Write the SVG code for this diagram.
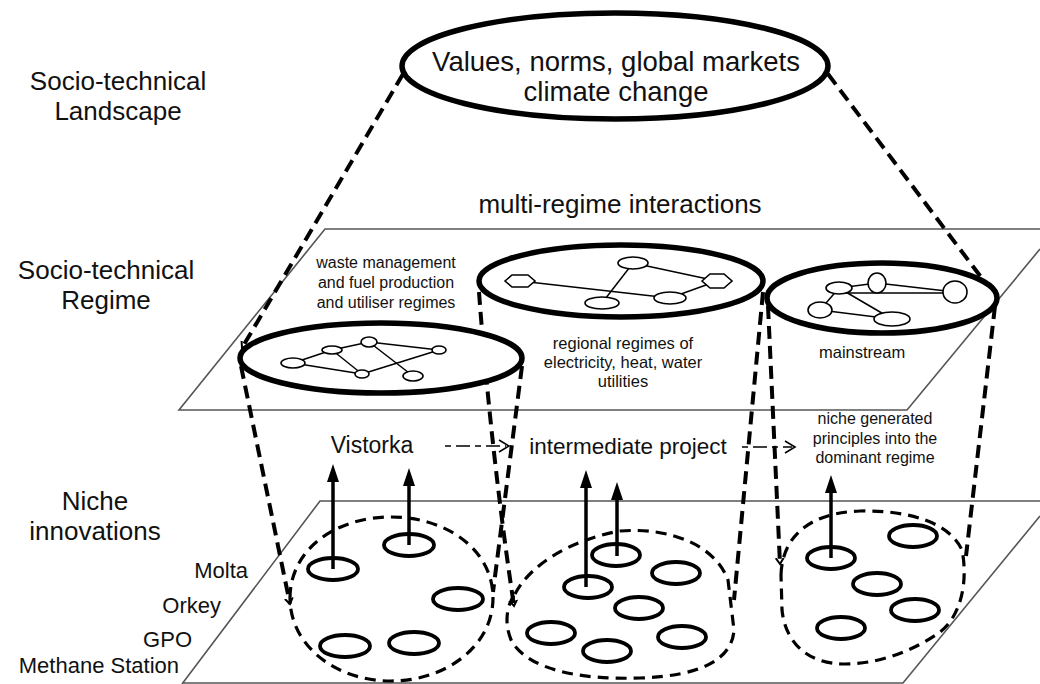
<svg xmlns="http://www.w3.org/2000/svg" width="1040" height="684" viewBox="0 0 1040 684">
  <style>
    .lbl { font-family: "Liberation Sans", Arial, Helvetica, sans-serif; fill: #111; }
    .plane { fill: none; stroke: #555; stroke-width: 1.6; }
    .regime { fill: #fff; stroke: #000; stroke-width: 5.5; }
    .funnel { fill: none; stroke: #000; stroke-width: 4; stroke-dasharray: 13 7; }
    .blob { fill: none; stroke: #000; stroke-width: 3.2; stroke-dasharray: 11 7; }
    .niche { fill: none; stroke: #000; stroke-width: 3.8; }
    .net-node { fill: #fff; stroke: #000; stroke-width: 1.6; }
    .net-edge { stroke: #000; stroke-width: 1.5; }
    .up { stroke: #000; stroke-width: 3.5; }
    .flow { fill: none; stroke: #000; stroke-width: 1.6; stroke-dasharray: 6 5 14 5; }
    .chev { fill: none; stroke: #000; stroke-width: 1.6; }
  </style>
  <defs>
    <marker id="open-tip" markerUnits="userSpaceOnUse" viewBox="-6 -6 12 12" refX="0" refY="0" markerWidth="12" markerHeight="12" orient="auto">
      <path d="M-6,-4 L0,0 L-6,4" fill="none" stroke="#000" stroke-width="2"/>
    </marker>
  </defs>

  <rect width="1040" height="684" fill="#fff"/>

  <!-- level labels -->
  <g id="level-labels" class="lbl" text-anchor="middle" font-size="26">
    <text x="118" y="90">Socio-technical</text>
    <text x="118" y="120">Landscape</text>
    <text x="106" y="279">Socio-technical</text>
    <text x="106" y="309">Regime</text>
    <text x="95" y="510">Niche</text>
    <text x="95" y="540">innovations</text>
  </g>

  <!-- planes -->
  <g id="planes">
    <path class="plane" d="M1040,229 L325,229 L179,410 L907,410 L1040,249"/>
    <path class="plane" d="M1040,501 L320,501 L182,684 M182,683 L903,683 L1040,516"/>
  </g>

  <!-- niche actors along the lower plane edge -->
  <g id="niche-actors" class="lbl" text-anchor="end" font-size="22">
    <text x="248" y="578">Molta</text>
    <text x="221" y="613">Orkey</text>
    <text x="192" y="647">GPO</text>
    <text x="179" y="673">Methane Station</text>
  </g>

  <!-- connectors: funnels, upward arrows, dashed flows -->
  <g id="connectors">
    <path class="funnel" d="M403,74 L242,348" marker-end="url(#open-tip)"/>
    <path class="funnel" d="M828,74 L993,293" marker-end="url(#open-tip)"/>

    <path class="funnel" d="M241,366 L290,604" marker-end="url(#open-tip)"/>
    <path class="funnel" d="M522,366 L493,592"/>
    <path class="funnel" d="M479,292 C484,360 495,480 514,606" marker-end="url(#open-tip)"/>
    <path class="funnel" d="M763,292 L734,600"/>
    <path class="funnel" d="M768,306 L780,564" marker-end="url(#open-tip)"/>
    <path class="funnel" d="M995,306 L966,556"/>

    <path class="blob" d="M290,598 C290,550 335,517 391,517 C447,517 493,550 493,598 C493,645 447,681 391,681 C335,681 290,645 290,598 Z"/>
    <path class="blob" d="M515,594 C530,565 570,540 620,531 C670,527 715,545 728,580 L734,630 C732,660 700,676 640,678 C580,680 530,670 512,642 C504,625 506,606 515,594 Z"/>
    <path class="blob" d="M781,575 C782,540 805,513 860,511 C912,510 950,524 962,550 C968,580 962,615 940,632 C915,650 880,664 845,664 C805,664 785,640 782,610 Z"/>

    <g fill="#000">
      <line class="up" x1="333" y1="569" x2="333" y2="480"/>
      <path d="M327,482 L333,464 L339,482 Z"/>
      <line class="up" x1="409" y1="545" x2="409" y2="484"/>
      <path d="M403,486 L409,468 L415,486 Z"/>
      <line class="up" x1="586" y1="587" x2="586" y2="486"/>
      <path d="M580,488 L586,470 L592,488 Z"/>
      <line class="up" x1="617" y1="556" x2="617" y2="498"/>
      <path d="M611,500 L617,482 L623,500 Z"/>
      <line class="up" x1="831" y1="558" x2="831" y2="491"/>
      <path d="M825,493 L831,475 L837,493 Z"/>
    </g>

    <line class="flow" x1="445" y1="446" x2="506" y2="446"/>
    <path class="chev" d="M499,440 L509,446 L499,452"/>
    <line class="flow" x1="742" y1="447" x2="792" y2="447"/>
    <path class="chev" d="M785,441 L795,447 L785,453"/>
  </g>

  <!-- landscape node -->
  <g id="landscape">
    <ellipse cx="615" cy="66" rx="213" ry="53" fill="#fff" stroke="#000" stroke-width="5.5"/>
    <text class="lbl" x="616" y="71" text-anchor="middle" font-size="27.5">Values, norms, global markets</text>
    <text class="lbl" x="616" y="101" text-anchor="middle" font-size="27.5">climate change</text>
  </g>

  <text id="multi-regime" class="lbl" x="620" y="213" text-anchor="middle" font-size="26">multi-regime interactions</text>

  <!-- regime 1: waste management -->
  <g id="regime-waste">
    <text class="lbl" x="386" y="268" text-anchor="middle" font-size="16">waste management</text>
    <text class="lbl" x="386" y="288" text-anchor="middle" font-size="16">and fuel production</text>
    <text class="lbl" x="386" y="308" text-anchor="middle" font-size="16">and utiliser regimes</text>
    <ellipse class="regime" cx="381" cy="358" rx="141" ry="35"/>
    <g class="net-edge">
      <line x1="293" y1="363" x2="332" y2="350"/>
      <line x1="293" y1="363" x2="362" y2="374"/>
      <line x1="332" y1="350" x2="369" y2="342"/>
      <line x1="332" y1="350" x2="362" y2="374"/>
      <line x1="369" y1="342" x2="439" y2="350"/>
      <line x1="369" y1="342" x2="413" y2="376"/>
      <line x1="362" y1="374" x2="439" y2="350"/>
    </g>
    <ellipse class="net-node" cx="293" cy="363" rx="12" ry="5"/>
    <ellipse class="net-node" cx="332" cy="350" rx="10" ry="4"/>
    <ellipse class="net-node" cx="369" cy="342" rx="8" ry="5"/>
    <ellipse class="net-node" cx="439" cy="350" rx="7" ry="4"/>
    <ellipse class="net-node" cx="362" cy="374" rx="7" ry="4"/>
    <ellipse class="net-node" cx="413" cy="376" rx="10" ry="5"/>
  </g>

  <!-- regime 2: regional utilities -->
  <g id="regime-utilities">
    <ellipse class="regime" cx="621" cy="281" rx="142" ry="36"/>
    <g class="net-edge">
      <line x1="520" y1="281" x2="670" y2="298"/>
      <line x1="633" y1="263" x2="717" y2="281"/>
      <line x1="633" y1="263" x2="602" y2="303"/>
      <line x1="670" y1="298" x2="717" y2="281"/>
    </g>
    <path class="net-node" d="M505,281 L512,275 L528,275 L535,281 L528,287 L512,287 Z"/>
    <ellipse class="net-node" cx="633" cy="263" rx="15" ry="6"/>
    <path class="net-node" d="M702,281 L710,274 L724,274 L732,281 L724,288 L710,288 Z"/>
    <ellipse class="net-node" cx="602" cy="303" rx="17" ry="6"/>
    <ellipse class="net-node" cx="670" cy="298" rx="16" ry="6"/>
    <text class="lbl" x="623" y="349" text-anchor="middle" font-size="16.5">regional regimes of</text>
    <text class="lbl" x="623" y="368" text-anchor="middle" font-size="16.5">electricity, heat, water</text>
    <text class="lbl" x="623" y="387" text-anchor="middle" font-size="16.5">utilities</text>
  </g>

  <!-- regime 3: mainstream -->
  <g id="regime-mainstream">
    <ellipse class="regime" cx="882" cy="298" rx="115" ry="35"/>
    <g class="net-edge">
      <line x1="839" y1="288" x2="877" y2="283"/>
      <line x1="877" y1="283" x2="955" y2="292"/>
      <line x1="845" y1="293" x2="943" y2="293"/>
      <line x1="839" y1="288" x2="820" y2="310"/>
      <line x1="820" y1="310" x2="892" y2="319"/>
      <line x1="839" y1="288" x2="892" y2="319"/>
    </g>
    <ellipse class="net-node" cx="839" cy="288" rx="13" ry="6"/>
    <ellipse class="net-node" cx="877" cy="283" rx="9" ry="10"/>
    <ellipse class="net-node" cx="955" cy="292" rx="12" ry="11"/>
    <ellipse class="net-node" cx="820" cy="310" rx="12" ry="8"/>
    <ellipse class="net-node" cx="892" cy="319" rx="18" ry="7"/>
    <text class="lbl" x="819" y="358" font-size="16.5">mainstream</text>
  </g>

  <!-- niche projects -->
  <g id="niche-vistorka">
    <text class="lbl" x="372" y="453" text-anchor="middle" font-size="23">Vistorka</text>
    <ellipse class="niche" cx="333" cy="569" rx="25" ry="11"/>
    <ellipse class="niche" cx="409" cy="545" rx="25" ry="11"/>
    <ellipse class="niche" cx="458" cy="599" rx="25" ry="11"/>
    <ellipse class="niche" cx="345" cy="646" rx="25" ry="11"/>
    <ellipse class="niche" cx="414" cy="643" rx="25" ry="11"/>
  </g>

  <g id="niche-intermediate">
    <text class="lbl" x="628" y="454" text-anchor="middle" font-size="22.5">intermediate project</text>
    <ellipse class="niche" cx="616" cy="555" rx="24" ry="11"/>
    <ellipse class="niche" cx="588" cy="587" rx="24" ry="11"/>
    <ellipse class="niche" cx="676" cy="573" rx="24" ry="11"/>
    <ellipse class="niche" cx="639" cy="608" rx="24" ry="11"/>
    <ellipse class="niche" cx="551" cy="633" rx="24" ry="11"/>
    <ellipse class="niche" cx="607" cy="651" rx="24" ry="11"/>
    <ellipse class="niche" cx="682" cy="637" rx="24" ry="11"/>
  </g>

  <g id="niche-dominant">
    <text class="lbl" x="875" y="424" text-anchor="middle" font-size="16">niche generated</text>
    <text class="lbl" x="875" y="444" text-anchor="middle" font-size="16">principles into the</text>
    <text class="lbl" x="875" y="463" text-anchor="middle" font-size="16">dominant regime</text>
    <ellipse class="niche" cx="831" cy="558" rx="24" ry="11"/>
    <ellipse class="niche" cx="913" cy="536" rx="24" ry="11"/>
    <ellipse class="niche" cx="877" cy="584" rx="24" ry="11"/>
    <ellipse class="niche" cx="915" cy="610" rx="24" ry="11"/>
    <ellipse class="niche" cx="841" cy="628" rx="24" ry="11"/>
  </g>
</svg>
